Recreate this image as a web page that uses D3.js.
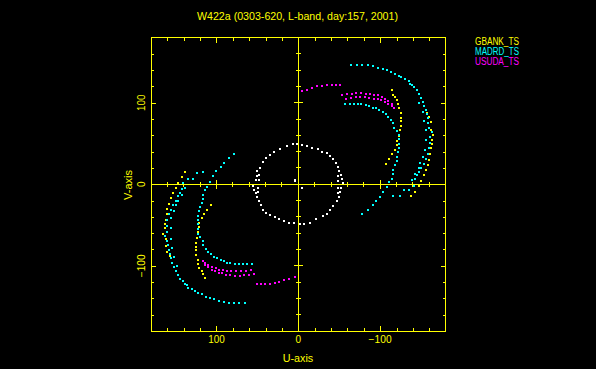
<!DOCTYPE html>
<html><head><meta charset="utf-8">
<script src="https://cdn.jsdelivr.net/npm/d3@7"></script>
<style>html,body{margin:0;padding:0;background:#000;overflow:hidden;} svg{display:block;}</style>
</head><body>
<script>
// ---- chart text ----
const titleText = "W422a (0303-620, L-band, day:157, 2001)";
const xLabel = "U-axis";
const yLabel = "V-axis";
const legendNames = ["GBANK_TS", "MADRD_TS", "USUDA_TS"];
const legendColors = ["#ffff00", "#00ffff", "#ff00ff"];

// ---- axis ticks ----
const axisDomain = [180, -180];
const minorTicks = [-160,-140,-120,-100,-80,-60,-40,-20,0,20,40,60,80,100,120,140,160];
const majorTicks = [-100, 0, 100];
const majorTickLabels = ["\u2212100", "0", "100"];

const whitePts = [
 [-5,48],[-11,47],[-17,45],[-24,43],[-29,40],[-35,38],[-39,35],[-43,31],[-46,26],[-48,21],[-50,16],[-52,11],[-54,7],[-55,2],
 [-52,-5],[-51,-10],[-50,-16],[-47,-20],[-43,-27],[-39,-32],[-35,-36],[-30,-39],[-22,-43],[-14,-47],[-7,-49],[-2,-49],
 [-49,10],[-49,4],[-48,-5],[-48,-11],
 [5,-48],[11,-47],[17,-45],[24,-43],[29,-40],[35,-38],[39,-35],[43,-31],[46,-26],[48,-21],[50,-16],[52,-11],[54,-7],[55,-2],
 [52,5],[51,10],[50,16],[47,20],[43,27],[39,32],[35,36],[30,39],[22,43],[14,47],[7,49],[2,49],
 [49,-10],[49,-4],[48,5],[48,11],
 [4,5],[4,4],[-4,-4],[-4,-5]
];
const gbankPts = [
 // inner arc
 [-114,115],[-116,110],[-118,107],[-121,103],[-122,98],[-123,93],[-125,87],[-125,81],[-125,77],[-125,72],[-124,66],[-123,59],[-121,53],[-121,48],[-118,42],[-115,37],[-111,31],[-107,25],
 [114,-115],[116,-110],[118,-107],[121,-103],[122,-98],[123,-93],[125,-87],[125,-81],[125,-77],[125,-72],[124,-66],[123,-59],[121,-53],[121,-48],[118,-42],[115,-37],[111,-31],[107,-25],
 // outer arc
 [-157,88],[-160,83],[-162,76],[-162,67],[-165,61],[-163,54],[-163,49],[-162,44],[-161,37],[-160,30],[-158,24],[-156,17],[-153,11],[-150,4],[-147,-2],[-142,-9],[-138,-15],
 [157,-88],[160,-83],[162,-76],[162,-67],[165,-61],[163,-54],[163,-49],[162,-44],[161,-37],[160,-30],[158,-24],[156,-17],[153,-11],[150,-4],[147,2],[142,9],[138,15]
];
const madrdPts = [
 // outer arc
 [-65,146],[-72,146],[-78,146],[-85,146],[-91,145],[-97,143],[-103,141],[-108,140],[-113,138],[-118,135],[-123,133],[-126,131],[-130,129],[-135,127],[-136,123],[-139,122],[-141,119],[-145,116],[-147,111],[-150,106],[-152,101],[-154,96],[-156,91],[-157,86],[-158,81],[-159,75],[-160,69],[-163,64],[-161,58],[-161,51],[-160,44],[-158,37],[-156,31],[-153,25],[-150,20],[-147,15],[-145,11],[-142,6],[-141,-2],[-135,-7],[-129,-7],[-124,-14],[-116,-15],
 [65,-146],[72,-146],[78,-146],[85,-146],[91,-145],[97,-143],[103,-141],[108,-140],[113,-138],[118,-135],[123,-133],[126,-131],[130,-129],[135,-127],[136,-123],[139,-122],[141,-119],[145,-116],[147,-111],[150,-106],[152,-101],[154,-96],[156,-91],[157,-86],[158,-81],[159,-75],[160,-69],[163,-64],[161,-58],[161,-51],[160,-44],[158,-37],[156,-31],[153,-25],[150,-20],[147,-15],[145,-11],[142,-6],[141,2],[135,7],[129,7],[124,14],[116,15],
 // second outer row
 [-148,100],[-152,89],[-154,78],[-156,67],[-156,54],[-155,42],[-152,33],[-149,26],[-147,20],[-142,13],[-139,5],
 [148,-100],[152,-89],[154,-78],[156,-67],[156,-54],[155,-42],[152,-33],[149,-26],[147,-20],[142,-13],[139,-5],
 // inner arc
 [-57,98],[-63,98],[-68,98],[-73,98],[-77,98],[-83,97],[-87,96],[-91,94],[-95,93],[-99,91],[-103,89],[-107,86],[-110,83],[-113,79],[-116,75],[-117,69],[-120,65],[-123,61],[-123,55],[-123,49],[-123,44],[-122,39],[-121,33],[-120,28],[-118,23],[-116,18],[-116,13],[-114,7],[-111,3],[-108,-3],[-104,-10],[-100,-16],[-95,-21],[-91,-26],[-85,-32],[-78,-37],
 [57,-98],[63,-98],[68,-98],[73,-98],[77,-98],[83,-97],[87,-96],[91,-94],[95,-93],[99,-91],[103,-89],[107,-86],[110,-83],[113,-79],[116,-75],[117,-69],[120,-65],[123,-61],[123,-55],[123,-49],[123,-44],[122,-39],[121,-33],[120,-28],[118,-23],[116,-18],[116,-13],[114,-7],[111,-3],[108,3],[104,10],[100,16],[95,21],[91,26],[85,32],[78,37]
];
const usudaPts = [
 // short arc
 [-4,114],[-11,116],[-17,118],[-23,120],[-29,121],[-35,122],[-41,122],[-46,122],[-51,122],
 [4,-114],[11,-116],[17,-118],[23,-120],[29,-121],[35,-122],[41,-122],[46,-122],[51,-122],
 // row A
 [-54,110],[-60,111],[-66,111],[-71,112],[-77,112],[-83,111],[-88,111],[-93,109],[-97,109],[-102,107],[-106,105],[-110,102],[-114,99],
 [54,-110],[60,-111],[66,-111],[71,-112],[77,-112],[83,-111],[88,-111],[93,-109],[97,-109],[102,-107],[106,-105],[110,-102],[114,-99],
 // row B
 [-58,105],[-64,106],[-70,107],[-76,107],[-82,107],[-87,106],[-92,105],[-97,105],[-101,103],[-106,101],[-110,99],[-114,96],[-117,94],
 [58,-105],[64,-106],[70,-107],[76,-107],[82,-107],[87,-106],[92,-105],[97,-105],[101,-103],[106,-101],[110,-99],[114,-96],[117,-94]
];

// ---- drawing ----
const W = 596, H = 369;
const yellow = "#ffff00";
const font = "'Liberation Sans', Arial, sans-serif";

const svg = d3.select("body").append("svg").attr("width", W).attr("height", H)
  .style("background", "#000");
svg.append("rect").attr("width", W).attr("height", H).attr("fill", "#000");

const x = d3.scaleLinear().domain(axisDomain).range([151, 445.6]);
const y = d3.scaleLinear().domain(axisDomain).range([37.5, 331]);

const axes = svg.append("g").attr("shape-rendering", "crispEdges");

function styleAxis(g) {
  g.select(".domain").remove();
  g.selectAll(".tick line").attr("stroke", yellow).attr("stroke-width", 1);
  g.selectAll(".tick text").remove();
}
const x0 = x(180), x1 = x(-180), y0 = y(180), y1 = y(-180);

// frame side ticks, inward
axes.append("g").attr("transform", `translate(0,${y1})`).call(d3.axisBottom(x).tickValues(minorTicks).tickSize(-3)).call(styleAxis);
axes.append("g").attr("transform", `translate(0,${y1})`).call(d3.axisBottom(x).tickValues(majorTicks).tickSize(-5)).call(styleAxis);
axes.append("g").attr("transform", `translate(0,${y0})`).call(d3.axisTop(x).tickValues(minorTicks).tickSize(-3)).call(styleAxis);
axes.append("g").attr("transform", `translate(0,${y0})`).call(d3.axisTop(x).tickValues(majorTicks).tickSize(-5)).call(styleAxis);
axes.append("g").attr("transform", `translate(${x0},0)`).call(d3.axisLeft(y).tickValues(minorTicks).tickSize(-3)).call(styleAxis);
axes.append("g").attr("transform", `translate(${x0},0)`).call(d3.axisLeft(y).tickValues(majorTicks).tickSize(-5)).call(styleAxis);
axes.append("g").attr("transform", `translate(${x1},0)`).call(d3.axisRight(y).tickValues(minorTicks).tickSize(-3)).call(styleAxis);
axes.append("g").attr("transform", `translate(${x1},0)`).call(d3.axisRight(y).tickValues(majorTicks).tickSize(-5)).call(styleAxis);

// zero lines with crossing ticks
axes.append("line").attr("x1", x0).attr("x2", x1).attr("y1", y(0)).attr("y2", y(0)).attr("stroke", yellow);
axes.append("line").attr("x1", x(0)).attr("x2", x(0)).attr("y1", y0).attr("y2", y1).attr("stroke", yellow);
const isMajor = v => majorTicks.includes(v);
axes.append("g").selectAll("line").data(minorTicks.filter(v => v !== 0)).join("line")
  .attr("x1", d => x(d)).attr("x2", d => x(d))
  .attr("y1", d => y(0) - (isMajor(d) ? 4.5 : 2.5)).attr("y2", d => y(0) + (isMajor(d) ? 4.5 : 2.5))
  .attr("stroke", yellow);
axes.append("g").selectAll("line").data(minorTicks.filter(v => v !== 0)).join("line")
  .attr("y1", d => y(d)).attr("y2", d => y(d))
  .attr("x1", d => x(0) - (isMajor(d) ? 4.5 : 2.5)).attr("x2", d => x(0) + (isMajor(d) ? 4.5 : 2.5))
  .attr("stroke", yellow);

// frame
axes.append("rect").attr("x", x0).attr("y", y0).attr("width", x1 - x0).attr("height", y1 - y0)
  .attr("fill", "none").attr("stroke", yellow).attr("stroke-width", 1);

// points
const pts = svg.append("g").attr("shape-rendering", "crispEdges");
function drawPts(data, color) {
  pts.append("g").selectAll("rect").data(data).join("rect")
    .attr("x", d => x(d[0]) - 1).attr("y", d => y(d[1]) - 1)
    .attr("width", 2).attr("height", 2).attr("fill", color);
}
drawPts(whitePts, "#ffffff");
drawPts(gbankPts, legendColors[0]);
drawPts(madrdPts, legendColors[1]);
drawPts(usudaPts, legendColors[2]);

// text
function txt(s, tx, ty, opts = {}) {
  const t = svg.append("text").attr("x", tx).attr("y", ty).text(s)
    .attr("fill", opts.color || yellow).attr("font-family", font)
    .attr("font-size", opts.size || 10).attr("text-anchor", opts.anchor || "middle");
  if (opts.len) t.attr("textLength", opts.len).attr("lengthAdjust", "spacingAndGlyphs");
  if (opts.rot) t.attr("transform", `rotate(-90,${tx},${ty})`);
  return t;
}
txt(titleText, 297.5, 20, {len: 201});
majorTicks.forEach((v, i) => {
  const s = majorTickLabels[i];
  const len = s.length === 1 ? null : (s.length === 3 ? 16.5 : 23);
  txt(s, x(v), 343.3, {len});
  txt(s, 145.3, y(v), {len, rot: true});
});
txt(xLabel, 298, 362, {len: 30.5});
txt(yLabel, 131.7, 185, {len: 30, rot: true});
legendNames.forEach((n, i) => {
  txt(n, 475, 45 + i * 10, {anchor: "start", color: legendColors[i], len: 44});
});
</script>
</body></html>
